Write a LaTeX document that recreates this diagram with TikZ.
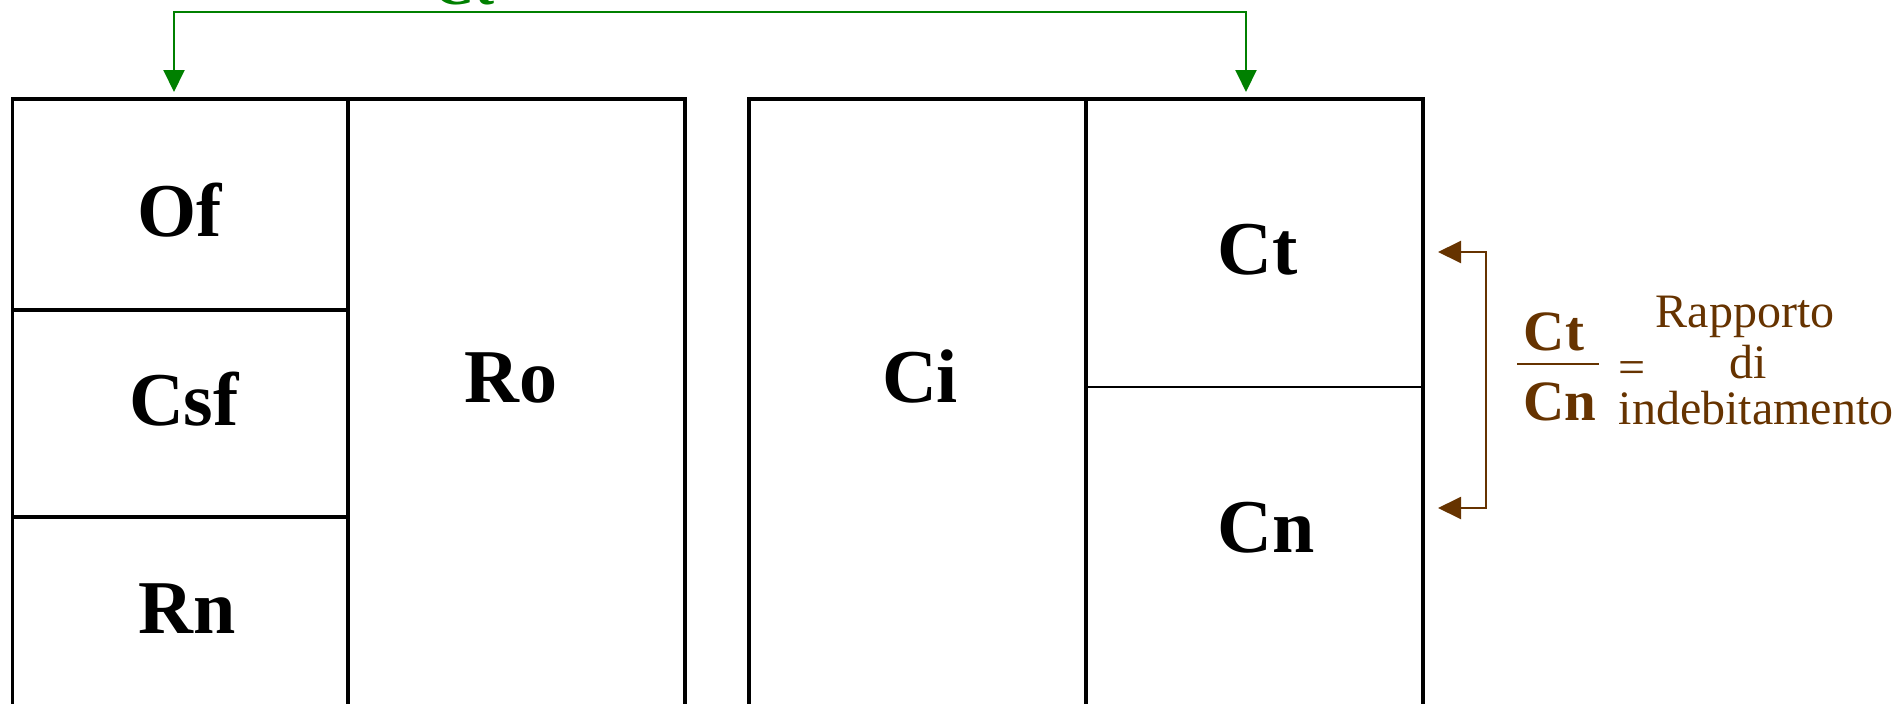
\documentclass[tikz,border=0pt]{standalone}
\usepackage{fontspec}
\setmainfont{Liberation Serif}
\usetikzlibrary{arrows.meta}
\definecolor{gr}{RGB}{0,128,0}
\definecolor{br}{RGB}{102,51,0}
\begin{document}
\begin{tikzpicture}[x=1pt,y=-1pt,
  frame/.style={line width=3.2pt, draw=black},
  thinframe/.style={line width=2pt, draw=black},
  big/.style={font=\fontsize{76}{80}\selectfont\bfseries, anchor=base, inner sep=0pt},
  frac/.style={font=\fontsize{57}{60}\selectfont\bfseries, anchor=base, inner sep=0pt},
  note/.style={font=\fontsize{48}{50}\selectfont, text=br, anchor=base, inner sep=0pt},
  garrow/.style={draw=gr, line width=2pt, {Triangle[length=22pt,width=21pt]}-{Triangle[length=22pt,width=21pt]}},
  barrow/.style={draw=br, line width=2pt, {Triangle[length=23pt,width=22pt]}-{Triangle[length=23pt,width=22pt]}}]
\useasboundingbox (0,0) rectangle (1899,704);
\clip (0,0) rectangle (1899,704);
% left box
\draw[frame] (12.5,99) rectangle (685,760);
\draw[frame] (348,99) -- (348,760);
\draw[frame] (12.5,310) -- (348,310);
\draw[frame] (12.5,517) -- (348,517);
% right box
\draw[frame] (749,99) rectangle (1423,760);
\draw[frame] (1086,99) -- (1086,760);
\draw[thinframe] (1086,387) -- (1423,387);
% labels
\node[big] (of) at (180,236) {Of};
\node[big] (csf) at (184,425) {Csf};
\node[big] (rn) at (187,633) {Rn};
\node[big] (ro) at (511,402) {Ro};
\node[big] (ci) at (920,402) {Ci};
\node[big] (ct) at (1258,274) {Ct};
\node[big] (cn) at (1266,552) {Cn};
% green connector
\coordinate (gA) at (174,92);
\coordinate (gB) at (1246,92);
\coordinate (gAt) at (174,12);
\coordinate (gBt) at (1246,12);
\draw[garrow] (gA) -- (gAt) -- (gBt) -- (gB);
\node[frac, text=gr] (glabel) at (464,5) {Ct};
% brown connector
\coordinate (bA) at (1438,252);
\coordinate (bB) at (1438,508);
\coordinate (bAr) at (1486,252);
\coordinate (bBr) at (1486,508);
\draw[barrow] (bA) -- (bAr) -- (bBr) -- (bB);
% fraction
\node[frac, text=br] (fnum) at (1554,350) {Ct};
\node[frac, text=br] (fden) at (1560,420) {Cn};
\coordinate (barL) at (1517,364);
\coordinate (barR) at (1599,364);
\draw[draw=br, line width=2pt] (barL) -- (barR);
\node[note] (eq) at (1632,383) {=};
\node[note] (r1) at (1745,327) {Rapporto};
\node[note] (r2) at (1748,378) {di};
\node[note] (r3) at (1756,424) {indebitamento};
\end{tikzpicture}
\end{document}
